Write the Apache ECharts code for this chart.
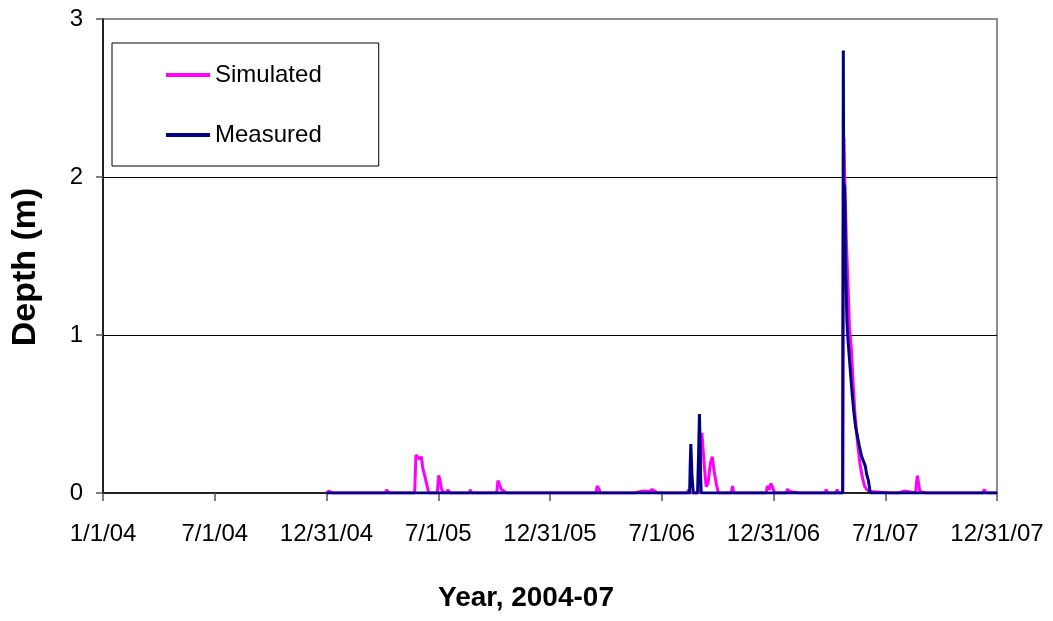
<!DOCTYPE html>
<html>
<head>
<meta charset="utf-8">
<script src="https://cdn.jsdelivr.net/npm/echarts@6/dist/echarts.min.js"></script>
<style>
html,body{margin:0;padding:0;background:#fff;}
#chart{width:1053px;height:621px;}
</style>
</head>
<body>
<div id="chart"></div>
<script>
// x tick labels (every 182.5 days from 1/1/04)
var tickLabels = ['1/1/04','7/1/04','12/31/04','7/1/05','12/31/05','7/1/06','12/31/06','7/1/07','12/31/07'];
var seriesNames = ['Simulated', 'Measured'];

var simDates = [
'2004-12-31','2005-01-04','2005-01-07','2005-01-10','2005-02-07','2005-02-09','2005-02-11',
'2005-04-06','2005-04-08','2005-04-10','2005-04-12','2005-04-26','2005-04-28','2005-04-30',
'2005-05-24','2005-05-26','2005-05-29','2005-06-01','2005-06-04','2005-06-06','2005-06-10','2005-06-13','2005-06-16',
'2005-06-30','2005-07-02','2005-07-04','2005-07-06','2005-07-08','2005-07-10',
'2005-07-15','2005-07-17','2005-07-19','2005-07-21','2005-07-24','2005-07-26',
'2005-08-21','2005-08-23','2005-08-25',
'2005-10-05','2005-10-07','2005-10-10','2005-10-13','2005-10-17','2005-10-21',
'2005-11-27','2005-11-29','2005-12-01',
'2006-01-18','2006-01-20','2006-01-22',
'2006-03-16','2006-03-18','2006-03-21','2006-03-23',
'2006-04-04','2006-04-06','2006-04-08',
'2006-05-19','2006-05-21','2006-05-28','2006-06-04','2006-06-11','2006-06-16','2006-06-21','2006-06-25',
'2006-07-25','2006-07-27','2006-07-29',
'2006-08-12','2006-08-14','2006-08-16',
'2006-08-31','2006-09-03','2006-09-05','2006-09-07','2006-09-09','2006-09-12','2006-09-15','2006-09-19','2006-09-22','2006-09-25','2006-09-29','2006-10-02',
'2006-10-23','2006-10-25','2006-10-27',
'2006-12-19','2006-12-21','2006-12-24','2006-12-27','2006-12-29','2006-12-31','2007-01-02',
'2007-01-21','2007-01-23','2007-01-26','2007-01-28',
'2007-02-11','2007-02-13','2007-02-15','2007-02-24','2007-02-26','2007-02-28',
'2007-03-25','2007-03-27','2007-03-29','2007-04-12','2007-04-14','2007-04-16',
'2007-04-23','2007-04-24','2007-04-25','2007-04-27','2007-04-29','2007-05-02','2007-05-04','2007-05-07','2007-05-10','2007-05-13','2007-05-17','2007-05-21','2007-05-25','2007-05-29','2007-06-02','2007-06-06','2007-06-09',
'2007-07-12','2007-07-14','2007-07-16',
'2007-07-24','2007-07-26','2007-08-01','2007-08-07','2007-08-10',
'2007-08-20','2007-08-22','2007-08-23','2007-08-25','2007-08-27','2007-08-29',
'2007-09-06','2007-09-08','2007-09-10','2007-09-26','2007-09-28','2007-09-30',
'2007-11-22','2007-11-24','2007-11-26','2007-12-08','2007-12-10','2007-12-12','2007-12-14','2007-12-31'
];
var simValues = [
0,0.012,0.01,0,0,0.012,0,
0,0.02,0.015,0,0,0.012,0,
0,0.24,0.235,0.215,0.23,0.16,0.10,0.05,0,
0,0.11,0.09,0.04,0.01,0,
0,0.02,0.01,0,0.01,0,
0,0.02,0,
0,0.078,0.075,0.02,0.012,0,
0,0.012,0,
0,0.012,0,
0,0.045,0.025,0,
0,0.012,0,
0,0.012,0.01,0.012,0.01,0.022,0.01,0,
0,0.012,0,
0,0.02,0,
0,0.3,0.38,0.28,0.17,0.04,0.06,0.19,0.23,0.14,0.05,0,
0,0.045,0,
0,0.045,0.02,0.06,0.07,0.02,0,
0,0.025,0.01,0,
0,0.012,0,0,0.012,0,
0,0.022,0,0,0.022,0,
0,1.6,2.25,1.9,1.6,1.28,1.05,0.92,0.7,0.5,0.33,0.19,0.1,0.04,0.02,0.01,0,
0,0.012,0,
0,0.012,0.012,0.01,0,
0,0.08,0.11,0.06,0.01,0,
0,0.012,0,0,0.012,0,
0,0.012,0,0,0.022,0.015,0,0
];

var measDates = [
'2004-12-31','2006-08-16','2006-08-17','2006-08-18','2006-08-20','2006-08-22',
'2006-08-29','2006-08-31','2006-09-01','2006-09-02','2006-09-03','2006-09-04',
'2007-04-23','2007-04-24','2007-04-25','2007-04-26','2007-04-27','2007-04-28','2007-04-30','2007-05-02','2007-05-05','2007-05-08','2007-05-11','2007-05-14','2007-05-16','2007-05-20','2007-05-24','2007-05-27','2007-05-30','2007-06-01','2007-06-04','2007-06-07',
'2007-12-31'
];
var measValues = [
0,0,0.18,0.31,0.1,0,
0,0.3,0.5,0.35,0.1,0,
0,2.8,1.45,1.95,1.75,1.4,1.08,0.95,0.8,0.65,0.52,0.42,0.38,0.3,0.23,0.2,0.17,0.12,0.08,0,
0
];

var DAY = 86400000;
var ORIGIN = Date.UTC(2004, 0, 1);
function toDay(s) {
  var p = s.split('-');
  return (Date.UTC(+p[0], +p[1] - 1, +p[2]) - ORIGIN) / DAY;
}
function pairs(dates, vals) {
  return dates.map(function (d, i) { return [toDay(d), vals[i]]; });
}

var chart = echarts.init(document.getElementById('chart'));
chart.setOption({
  animation: false,
  backgroundColor: '#fff',
  textStyle: { fontFamily: 'Liberation Sans, Arial, sans-serif' },
  grid: {
    left: 103, right: 56, top: 19, bottom: 128,
    show: true, borderColor: '#8c8c8c', borderWidth: 2, backgroundColor: 'transparent'
  },
  legend: {
    orient: 'vertical',
    left: 112, top: 43,
    data: seriesNames,
    backgroundColor: '#fff',
    borderColor: '#000', borderWidth: 1,
    padding: [17, 57, 16, 54],
    itemGap: 30,
    itemWidth: 44, itemHeight: 4,
    icon: 'rect',
    textStyle: { fontSize: 24, color: '#000', lineHeight: 30, fontFamily: 'Liberation Sans, Arial, sans-serif' }
  },
  xAxis: {
    type: 'value',
    min: 0, max: 1460, interval: 182.5,
    name: 'Year, 2004-07',
    nameLocation: 'middle',
    nameGap: 91,
    nameTextStyle: { fontSize: 28, fontWeight: 'bold', color: '#000', padding: [0, 48, 0, 0] },
    axisLine: { lineStyle: { color: '#000', width: 1.5 } },
    axisTick: { length: 8, lineStyle: { color: '#555', width: 1.5 } },
    axisLabel: {
      fontSize: 24, color: '#000', margin: 29,
      formatter: function (v) { return tickLabels[Math.round(v / 182.5)] || ''; }
    },
    splitLine: { show: false }
  },
  yAxis: {
    type: 'value',
    min: 0, max: 3, interval: 1,
    name: 'Depth (m)',
    nameLocation: 'middle',
    nameGap: 60,
    nameTextStyle: { fontSize: 34, fontWeight: 'bold', color: '#000', padding: [0, 22, 0, 0] },
    axisLine: { show: true, lineStyle: { color: '#000', width: 1.5 } },
    axisTick: { show: true, length: 7, lineStyle: { color: '#555', width: 1.5 } },
    axisLabel: { fontSize: 24, color: '#000', margin: 20 },
    splitLine: { show: true, showMaxLine: false, showMinLine: false, lineStyle: { color: '#000', width: 1 } }
  },
  series: [
    {
      name: seriesNames[0], type: 'line', showSymbol: false, symbol: 'none',
      color: '#ff00ff',
      lineStyle: { color: '#ff00ff', width: 3 },
      data: pairs(simDates, simValues)
    },
    {
      name: seriesNames[1], type: 'line', showSymbol: false, symbol: 'none',
      color: '#000080',
      lineStyle: { color: '#000080', width: 3 },
      data: pairs(measDates, measValues)
    }
  ]
});
</script>
</body>
</html>
